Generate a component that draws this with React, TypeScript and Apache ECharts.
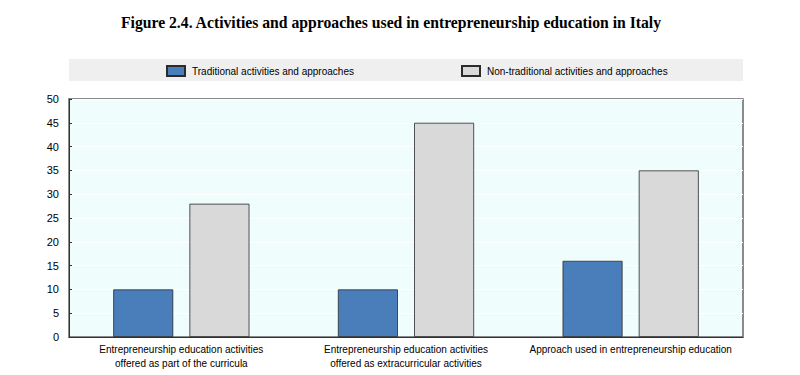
import React, { useEffect, useRef } from "react";
import * as echarts from "echarts";

const titleText = "Figure 2.4. Activities and approaches used in entrepreneurship education in Italy";
const categories = [
  "Entrepreneurship education activities\noffered as part of the curricula",
  "Entrepreneurship education activities\noffered as extracurricular activities",
  "Approach used in entrepreneurship education",
];
const seriesNames = ["Traditional activities and approaches", "Non-traditional activities and approaches"];
const traditional = [10, 10, 16];
const nonTraditional = [28, 45, 35];
const yMin = 0;
const yMax = 50;
const yInterval = 5;

const FONT = "'Liberation Sans', Arial, sans-serif";

export default function App() {
  const ref = useRef<HTMLDivElement>(null);
  useEffect(() => {
    if (!ref.current) return;
    const chart = echarts.init(ref.current, undefined, { renderer: "svg" });
    const legendText = { fontFamily: FONT, fontSize: 10, color: "#000", padding: [0, 0, 0, 2] };
    chart.setOption({
      animation: false,
      backgroundColor: "#ffffff",
      graphic: [
        {
          type: "text",
          x: 391,
          y: 22,
          style: {
            text: titleText,
            font: "bold 15.7px 'Liberation Serif', 'Times New Roman', serif",
            fill: "#000",
            align: "center",
            verticalAlign: "middle",
          },
        },
        {
          type: "rect",
          z: -1,
          shape: { x: 69, y: 59, width: 674, height: 22 },
          style: { fill: "#efefef" },
        },
      ],
      legend: [
        {
          data: [{ name: seriesNames[0], icon: "rect" }],
          left: 166,
          top: 65,
          itemWidth: 18,
          itemHeight: 10,
          textStyle: legendText,
          padding: 0,
        },
        {
          data: [{ name: seriesNames[1], icon: "rect" }],
          left: 461,
          top: 65,
          itemWidth: 18,
          itemHeight: 10,
          textStyle: legendText,
          padding: 0,
        },
      ],
      grid: {
        left: 69,
        right: 57,
        top: 99,
        bottom: 38,
        show: true,
        backgroundColor: "#effdfd",
        borderColor: "#666",
        borderWidth: 1.5,
      },
      xAxis: {
        type: "category",
        data: categories,
        axisLine: { lineStyle: { color: "#333", width: 1 } },
        axisTick: { inside: true, length: 3, lineStyle: { color: "#333" } },
        axisLabel: {
          fontFamily: FONT,
          fontSize: 10,
          color: "#000",
          margin: 5,
          lineHeight: 14,
          interval: 0,
        },
      },
      yAxis: {
        type: "value",
        min: yMin,
        max: yMax,
        interval: yInterval,
        axisLine: { show: true, lineStyle: { color: "#333", width: 1 } },
        axisTick: { show: true, inside: true, length: 3, lineStyle: { color: "#333" } },
        axisLabel: { fontFamily: FONT, fontSize: 11, color: "#000", margin: 10 },
        splitLine: { show: true, lineStyle: { color: "#ffffff", width: 1 } },
      },
      series: [
        {
          name: seriesNames[0],
          type: "bar",
          data: traditional,
          barWidth: 60,
          barGap: "27%",
          itemStyle: { color: "#4a7ebb", borderColor: "#2b2b2b", borderWidth: 0.8 },
        },
        {
          name: seriesNames[1],
          type: "bar",
          data: nonTraditional,
          barWidth: 60,
          barGap: "27%",
          itemStyle: { color: "#d9d9d9", borderColor: "#2b2b2b", borderWidth: 0.8 },
        },
      ],
    });
    return () => chart.dispose();
  }, []);
  return <div ref={ref} style={{ position: "fixed", left: 0, top: 0, width: 800, height: 375 }} />;
}
